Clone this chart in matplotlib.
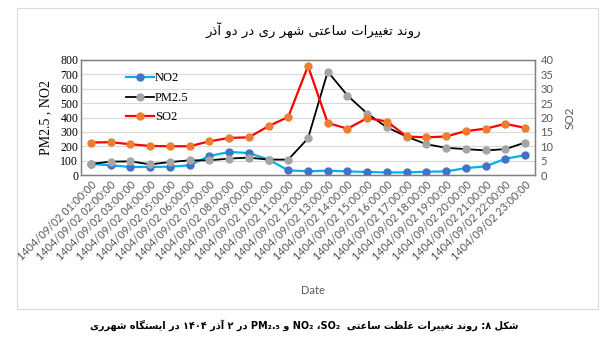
import re
import matplotlib
matplotlib.use('Agg')
import matplotlib.pyplot as plt
from matplotlib.patches import Rectangle

# hourly values (02 Azar 1404, Shahr-e Rey)
hours = ['1404/09/02 %02d:00:00' % h for h in range(1, 24)]
no2 = [77, 67, 56, 56, 58, 67, 132, 160, 153, 107, 32, 26,
       30, 25, 21, 18, 18, 23, 25, 48, 60, 113, 138]
pm25 = [77, 93, 95, 74, 90, 102, 102, 114, 121, 107, 107, 255,
        719, 553, 427, 332, 267, 214, 189, 180, 171, 180, 226]
so2 = [11.3, 11.4, 10.7, 10.1, 10.0, 10.0, 11.7, 12.9, 13.1, 17.0, 20.2, 37.9,
       18.1, 16.1, 19.8, 18.6, 13.4, 13.1, 13.4, 15.3, 16.1, 17.8, 16.4]

title_fa = 'روند تغییرات ساعتی شهر ری در دو آذر'
caption_fa = 'شکل ۸: روند تغییرات غلظت ساعتی  SO₂، NO₂ و PM₂.₅ در ۲ آذر ۱۴۰۴ در ایستگاه شهرری'

# minimal arabic shaping (isolated, final, initial, medial) since mpl has no bidi
FORMS = {
    'ا': ('ﺍ', 'ﺎ', None, None),
    'آ': ('ﺁ', 'ﺂ', None, None),
    'د': ('ﺩ', 'ﺪ', None, None),
    'ذ': ('ﺫ', 'ﺬ', None, None),
    'ر': ('ﺭ', 'ﺮ', None, None),
    'ز': ('ﺯ', 'ﺰ', None, None),
    'و': ('ﻭ', 'ﻮ', None, None),
    'ب': ('ﺏ', 'ﺐ', 'ﺑ', 'ﺒ'),
    'ت': ('ﺕ', 'ﺖ', 'ﺗ', 'ﺘ'),
    'س': ('ﺱ', 'ﺲ', 'ﺳ', 'ﺴ'),
    'ش': ('ﺵ', 'ﺶ', 'ﺷ', 'ﺸ'),
    'ظ': ('ﻅ', 'ﻆ', 'ﻇ', 'ﻈ'),
    'ع': ('ﻉ', 'ﻊ', 'ﻋ', 'ﻌ'),
    'غ': ('ﻍ', 'ﻎ', 'ﻏ', 'ﻐ'),
    'ل': ('ﻝ', 'ﻞ', 'ﻟ', 'ﻠ'),
    'م': ('ﻡ', 'ﻢ', 'ﻣ', 'ﻤ'),
    'ن': ('ﻥ', 'ﻦ', 'ﻧ', 'ﻨ'),
    'ه': ('ﻩ', 'ﻪ', 'ﻫ', 'ﻬ'),
    'ی': ('ﯼ', 'ﯽ', 'ﯾ', 'ﯿ'),
    'ک': ('ﮎ', 'ﮏ', 'ﮐ', 'ﮑ'),
    'گ': ('ﮒ', 'ﮓ', 'ﮔ', 'ﮕ'),
}


def shape(s):
    out = []
    for i, ch in enumerate(s):
        f = FORMS.get(ch)
        if f is None:
            out.append(ch)
            continue
        prev = s[i - 1] if i > 0 else ''
        nxt = s[i + 1] if i < len(s) - 1 else ''
        jp = prev in FORMS and FORMS[prev][2] is not None
        jn = nxt in FORMS and f[2] is not None
        if jp and jn:
            out.append(f[3])
        elif jp:
            out.append(f[1])
        elif jn:
            out.append(f[2])
        else:
            out.append(f[0])
    return ''.join(out)


def rtl(s):
    s = shape(s)[::-1]
    # latin words and numbers keep left-to-right order
    return re.sub(r'[A-Za-z0-9\u06F0-\u06F9\u2080-\u2089.]+', lambda m: m.group(0)[::-1], s)


gray = '#595959'
fig = plt.figure(figsize=(6.08, 3.51), dpi=100)

# outer chart-area border
fig.patches.append(Rectangle((17 / 608, 1 - 309 / 351), 581 / 608, 301 / 351,
                             transform=fig.transFigure, fill=False,
                             edgecolor='#D9D9D9', linewidth=0.8))

ax = fig.add_axes([81 / 608, 1 - 175 / 351, 454 / 608, 115 / 351])
ax2 = ax.twinx()
x = range(len(hours))

l1, = ax.plot(x, no2, color='#00B0F0', lw=1.6, marker='o', ms=5,
              mfc='#4472C4', mec='#4472C4', label='NO2')
l2, = ax.plot(x, pm25, color='black', lw=1.3, marker='o', ms=5,
              mfc='#A5A5A5', mec='#A5A5A5', label='PM2.5')
l3, = ax2.plot(x, so2, color='#FF0000', lw=1.6, marker='o', ms=5,
               mfc='#ED7D31', mec='#ED7D31', label='SO2')

ax.set_xlim(-0.5, len(hours) - 0.5)
ax.set_ylim(0, 800)
ax2.set_ylim(0, 40)
ax.set_yticks(range(0, 801, 100))
ax2.set_yticks(range(0, 41, 5))
ax.grid(axis='y', color='#D9D9D9', lw=0.8)
ax.set_axisbelow(True)

ax.set_xticks(list(x))
ax.set_xticklabels(hours, rotation=45, ha='right', rotation_mode='anchor',
                   fontsize=7.8, color=gray, family='Lato')
ax.tick_params(axis='x', length=0, pad=3)
ax.tick_params(axis='y', length=0, pad=2, labelsize=8.5)
for t in ax.get_yticklabels():
    t.set_family('Liberation Serif')
ax2.tick_params(axis='y', length=0, pad=4, labelsize=8, labelcolor=gray)
for t in ax2.get_yticklabels():
    t.set_family('Lato')

for a in (ax, ax2):
    for sp in a.spines.values():
        sp.set_color('#7F7F7F')
        sp.set_linewidth(0.9)

ax.set_ylabel('PM2.5 , NO2', family='Liberation Serif', fontsize=10, labelpad=6)
ax2.set_ylabel('SO2', family='Lato', fontsize=8.5, color=gray, labelpad=8)
fig.text(313 / 608, 1 - 290 / 351, 'Date', ha='center', va='center',
         family='Lato', fontsize=8, color=gray)

ax2.legend(handles=[l1, l2, l3], loc='upper left', bbox_to_anchor=(0.075, 0.99),
           frameon=False, prop={'family': 'Liberation Serif', 'size': 9},
           handlelength=2.2, handletextpad=0.1, labelspacing=0.6)

fig.text(0.515, 1 - 30 / 351, rtl(title_fa), ha='center', va='center',
         family='DejaVu Sans', fontsize=9.5)
fig.text(0.5, 1 - 325 / 351, rtl(caption_fa), ha='center', va='center',
         family='DejaVu Sans', fontsize=7, weight='bold')

fig.savefig('out.png', dpi=100)
